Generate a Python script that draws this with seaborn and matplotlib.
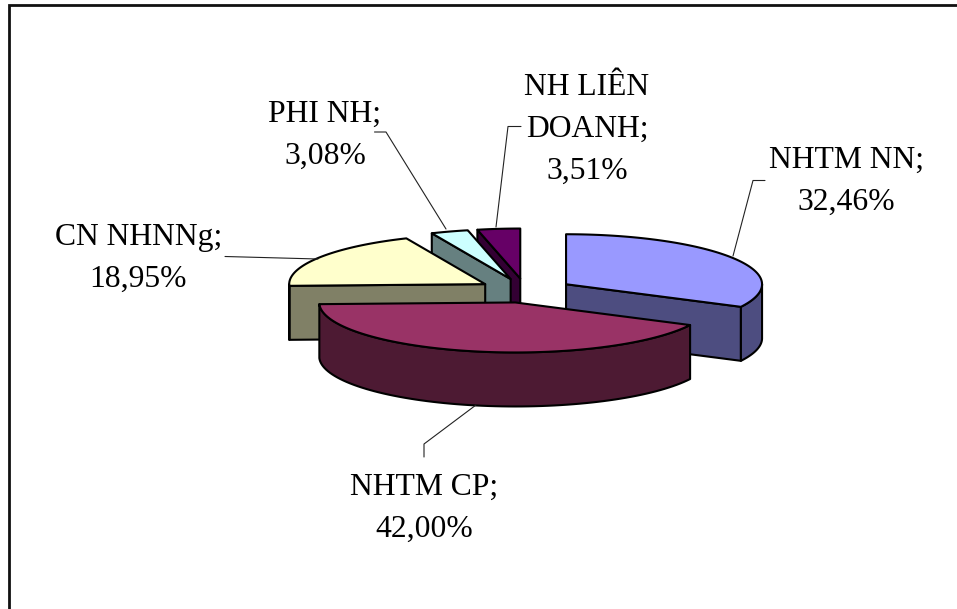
import numpy as np
import matplotlib
matplotlib.use("Agg")
import matplotlib.pyplot as plt
from matplotlib.patches import Polygon
import seaborn as sns

# Market share by type of credit institution
categories = ["NHTM NN", "NHTM CP", "CN NHNNg", "PHI NH", "NH LIÊN DOANH"]
shares = [32.46, 42.00, 18.95, 3.08, 3.51]

top_colors = ["#9999FF", "#993366", "#FFFFCC", "#CCFFFF", "#660066"]
side_colors = ["#4D4D80", "#4D1A33", "#808066", "#668080", "#330033"]

# Pie projection, in figure pixels
CENTER = (525.5, 290.6)
RX, RY = 196.0, 50.0
DEPTH = 54.0
EXPLODE = 47.6

# Label lines: centre x, first baseline, and wrapped text prefix
label_layout = {
    "NHTM NN": (846.5, 168, ["NHTM NN;"]),
    "NHTM CP": (424, 495, ["NHTM CP;"]),
    "CN NHNNg": (138.5, 245, ["CN NHNNg;"]),
    "PHI NH": (325, 122, ["PHI NH;"]),
    "NH LIÊN DOANH": (587, 95, ["NH LIÊN", "DOANH;"]),
}
LINE_HEIGHT = 41.8

# Leader lines, as pixel paths from the pie out to each label
leader_paths = {
    "NHTM NN": [(733, 256), (753, 180.5), (765, 180.5)],
    "NHTM CP": [(476, 405), (424, 444), (424, 457)],
    "CN NHNNg": [(318, 259), (225, 256.5)],
    "PHI NH": [(446, 229), (386, 132), (374.5, 132)],
    "NH LIÊN DOANH": [(496, 227), (508, 126.5), (521, 126.5)],
}

sns.set_theme(style="white")
plt.rcParams["font.family"] = ["Liberation Serif", "DejaVu Serif"]

fig = plt.figure(figsize=(9.57, 6.09), dpi=100, facecolor="white")
ax = fig.add_axes([0, 0, 1, 1])
ax.set_xlim(0, 957)
ax.set_ylim(609, 0)
ax.axis("off")

# Frame: only the top and left edges fall inside the canvas
ax.plot([8.5, 8.5, 957], [609, 4.5, 4.5], color="#111111", lw=2.0,
        solid_joinstyle="miter", zorder=1)

fractions = np.array(shares) / np.sum(shares)
edges = np.concatenate([[0.0], np.cumsum(fractions)]) * 2 * np.pi


def rim(cx, cy, theta):
    return np.column_stack([cx + RX * np.sin(theta), cy - RY * np.cos(theta)])


def add_face(points, color, z):
    ax.add_patch(Polygon(points, closed=True, facecolor=color, edgecolor="black",
                         lw=1.5, joinstyle="round", zorder=z))


# Back-to-front order keeps the nearer slices on top of the farther ones
draw_order = [4, 3, 2, 0, 1]
for rank, i in enumerate(draw_order):
    start, end = edges[i], edges[i + 1]
    mid = (start + end) / 2
    cx = CENTER[0] + EXPLODE * np.sin(mid)
    cy = CENTER[1] - EXPLODE * np.cos(mid) * RY / RX
    apex = np.array([[cx, cy]])
    drop = np.array([0.0, DEPTH])
    z = 2 + rank * 0.1

    # Radial cut faces, skipped when they turn away from the viewer
    if np.sin(start) < 0:
        p = rim(cx, cy, np.array([start]))
        add_face(np.vstack([apex, p, p + drop, apex + drop]), side_colors[i], z)
    if np.sin(end) > 1e-9:
        p = rim(cx, cy, np.array([end]))
        add_face(np.vstack([apex, p, p + drop, apex + drop]), side_colors[i], z)

    # Curved outer wall, only where it faces the viewer
    lo, hi = max(start, np.pi / 2), min(end, 3 * np.pi / 2)
    if hi > lo:
        arc = rim(cx, cy, np.linspace(lo, hi, 80))
        add_face(np.vstack([arc, (arc + drop)[::-1]]), side_colors[i], z + 0.01)

    # Top surface
    arc = rim(cx, cy, np.linspace(start, end, 120))
    add_face(np.vstack([apex, arc]), top_colors[i], z + 0.02)

for name in categories:
    path = np.array(leader_paths[name])
    ax.plot(path[:, 0], path[:, 1], color="#222222", lw=0.8, zorder=4)

for name, value in zip(categories, shares):
    x, base, lines = label_layout[name]
    pct = f"{value:.2f}%".replace(".", ",")
    for k, line in enumerate(lines + [pct]):
        ax.text(x, base + k * LINE_HEIGHT, line, ha="center", va="baseline",
                fontsize=22.8, color="black", zorder=5)

fig.savefig("out.png", dpi=100)
